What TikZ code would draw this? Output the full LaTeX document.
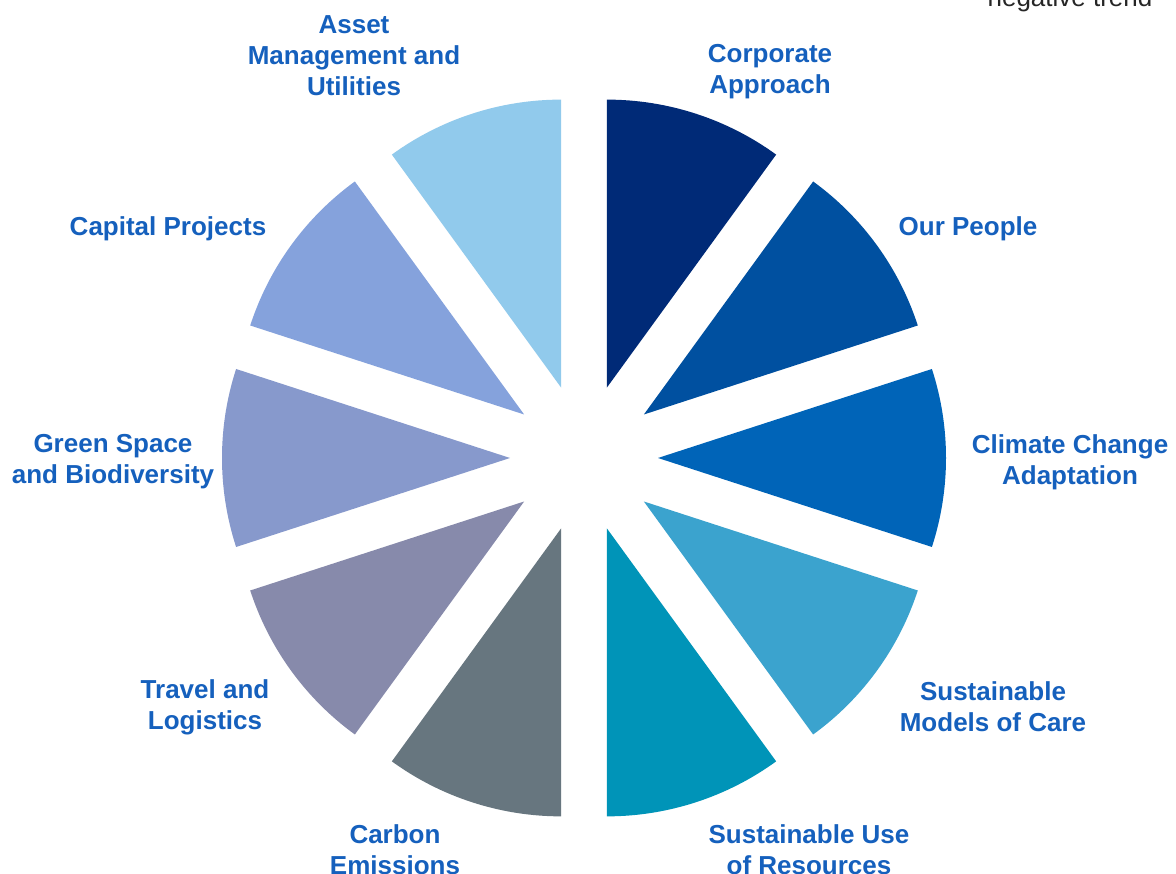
\documentclass[tikz,border=0pt]{standalone}
\usepackage{fontspec}
\setmainfont{Liberation Sans}
\usetikzlibrary{calc}
\definecolor{labelblue}{HTML}{1560BD}
\definecolor{cA}{HTML}{002A77}
\definecolor{cB}{HTML}{0050A0}
\definecolor{cC}{HTML}{0064B8}
\definecolor{cD}{HTML}{3BA3CE}
\definecolor{cE}{HTML}{0094B8}
\definecolor{cF}{HTML}{67767F}
\definecolor{cG}{HTML}{878AAB}
\definecolor{cH}{HTML}{8799CC}
\definecolor{cI}{HTML}{85A2DC}
\definecolor{cJ}{HTML}{91CAEC}
\begin{document}
\begin{tikzpicture}[x=1pt,y=1pt,
  lbl/.style={font=\fontsize{26}{31}\selectfont\bfseries, text=labelblue, align=center, inner sep=0pt}]
\useasboundingbox (0,0) rectangle (1176,874);
\fill[white] (0,0) rectangle (1176,874);
\coordinate (C) at (584,416);
\def\R{288}
\def\D{74}
\foreach \a/\col in {54/cA,18/cB,-18/cC,-54/cD,-90/cE,-126/cF,-162/cG,162/cH,126/cI,90/cJ}{
  \pgfmathsetmacro\b{\a+18}
  \pgfmathsetmacro\e{\a+36}
  \fill[\col] ($(C)+(\b:\D)$) -- ++(\a:\R) arc[start angle=\a, end angle=\e, radius=\R] -- cycle;
}
\node[lbl] (asset) at (354,818) {Asset\\Management and\\Utilities};
\node[lbl] (corp) at (770,802) {Corporate\\Approach};
\node[lbl] (people) at (968,645) {Our People};
\node[lbl] (climate) at (1070,412) {Climate Change\\Adaptation};
\node[lbl] (care) at (993,167) {Sustainable\\Models of Care};
\node[lbl] (resources) at (809,24) {Sustainable Use\\of Resources};
\node[lbl] (carbon) at (395,24) {Carbon\\Emissions};
\node[lbl] (travel) at (205,167) {Travel and\\Logistics};
\node[lbl] (green) at (113,412) {Green Space\\and Biodiversity};
\node[lbl] (capital) at (168,645) {Capital Projects};
\node[font=\fontsize{26}{31}\selectfont, text=black!85, inner sep=0pt, anchor=base] (trend) at (1070,867) {negative trend};
\end{tikzpicture}
\end{document}
